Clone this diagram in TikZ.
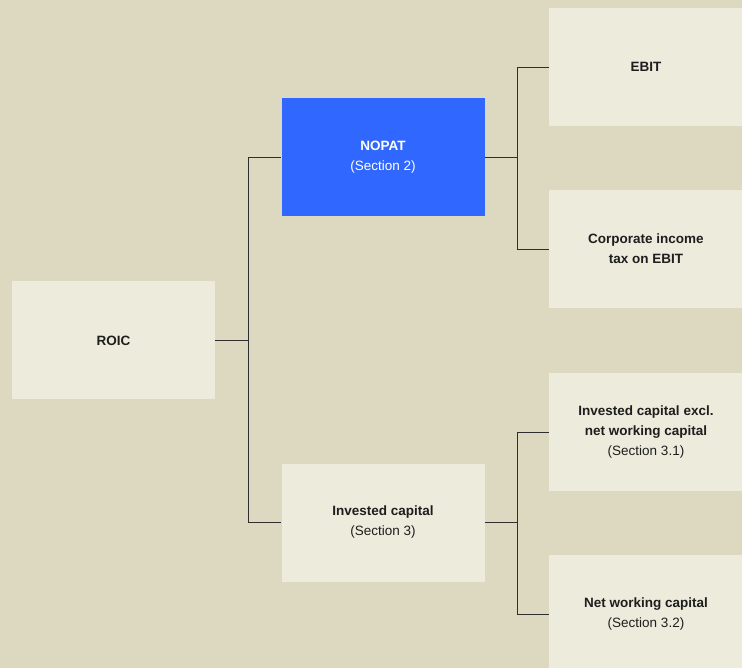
\documentclass[tikz,border=0pt]{standalone}
\usepackage{fontspec}
\setmainfont{Liberation Sans}
\usepackage{tikz}
\usetikzlibrary{positioning}

\definecolor{bgtan}{HTML}{DDD8C0}
\definecolor{boxtan}{HTML}{EDEBDC}
\definecolor{nopatblue}{HTML}{3067FF}
\definecolor{linegray}{HTML}{2E2E2E}
\definecolor{inkdark}{HTML}{1E1E1E}

\begin{document}
\begin{tikzpicture}[
  x=1pt, y=-1pt,
  box/.style={
    minimum width=#1,
    minimum height=118pt,
    inner sep=2pt,
    fill=boxtan,
    text=inkdark,
    font=\fontsize{13.5}{20}\selectfont,
    align=center,
  },
  box/.default=203pt,
  hilite/.style={
    fill=nopatblue,
    text=white,
  },
  link/.style={
    line width=0.9pt,
    draw=linegray,
  },
]

% ============================================================
% BACKGROUND
% ============================================================
\fill[bgtan] (0,0) rectangle (742,668);
\useasboundingbox (0,0) rectangle (742,668);

% ============================================================
% LEVEL 0
% ============================================================
\node[box] (roic) at (113.5, 340.5) {\textbf{ROIC}};

% ============================================================
% LEVEL 1
% ============================================================
\node[box, hilite] (nopat) at (383, 157.5) {\textbf{NOPAT}\\(Section 2)};
\node[box] (invcap) at (383, 522.5) {\textbf{Invested capital}\\(Section 3)};

% ============================================================
% LEVEL 2
% ============================================================
\node[box=194pt] (ebit) at (646, 67) {\textbf{EBIT}};
\node[box=194pt] (citax) at (646, 249) {\textbf{Corporate income}\\\textbf{tax on EBIT}};
\node[box=194pt] (icexcl) at (646, 432) {\textbf{Invested capital excl.}\\\textbf{net working capital}\\(Section 3.1)};
\node[box=194pt] (nwc) at (646, 614) {\textbf{Net working capital}\\(Section 3.2)};

% ============================================================
% CONNECTORS
% ============================================================
\draw[link] (roic.east) -- ++(33,0) coordinate (roicfork);
\draw[link] (roicfork) |- (nopat.west);
\draw[link] (roicfork) |- (invcap.west);

\draw[link] (nopat.east) -- ++(33,0) coordinate (nopatfork);
\draw[link] (nopatfork) |- (ebit.west);
\draw[link] (nopatfork) |- (citax.west);

\draw[link] (invcap.east) -- ++(33,0) coordinate (icfork);
\draw[link] (icfork) |- (icexcl.west);
\draw[link] (icfork) |- (nwc.west);

\end{tikzpicture}
\end{document}
